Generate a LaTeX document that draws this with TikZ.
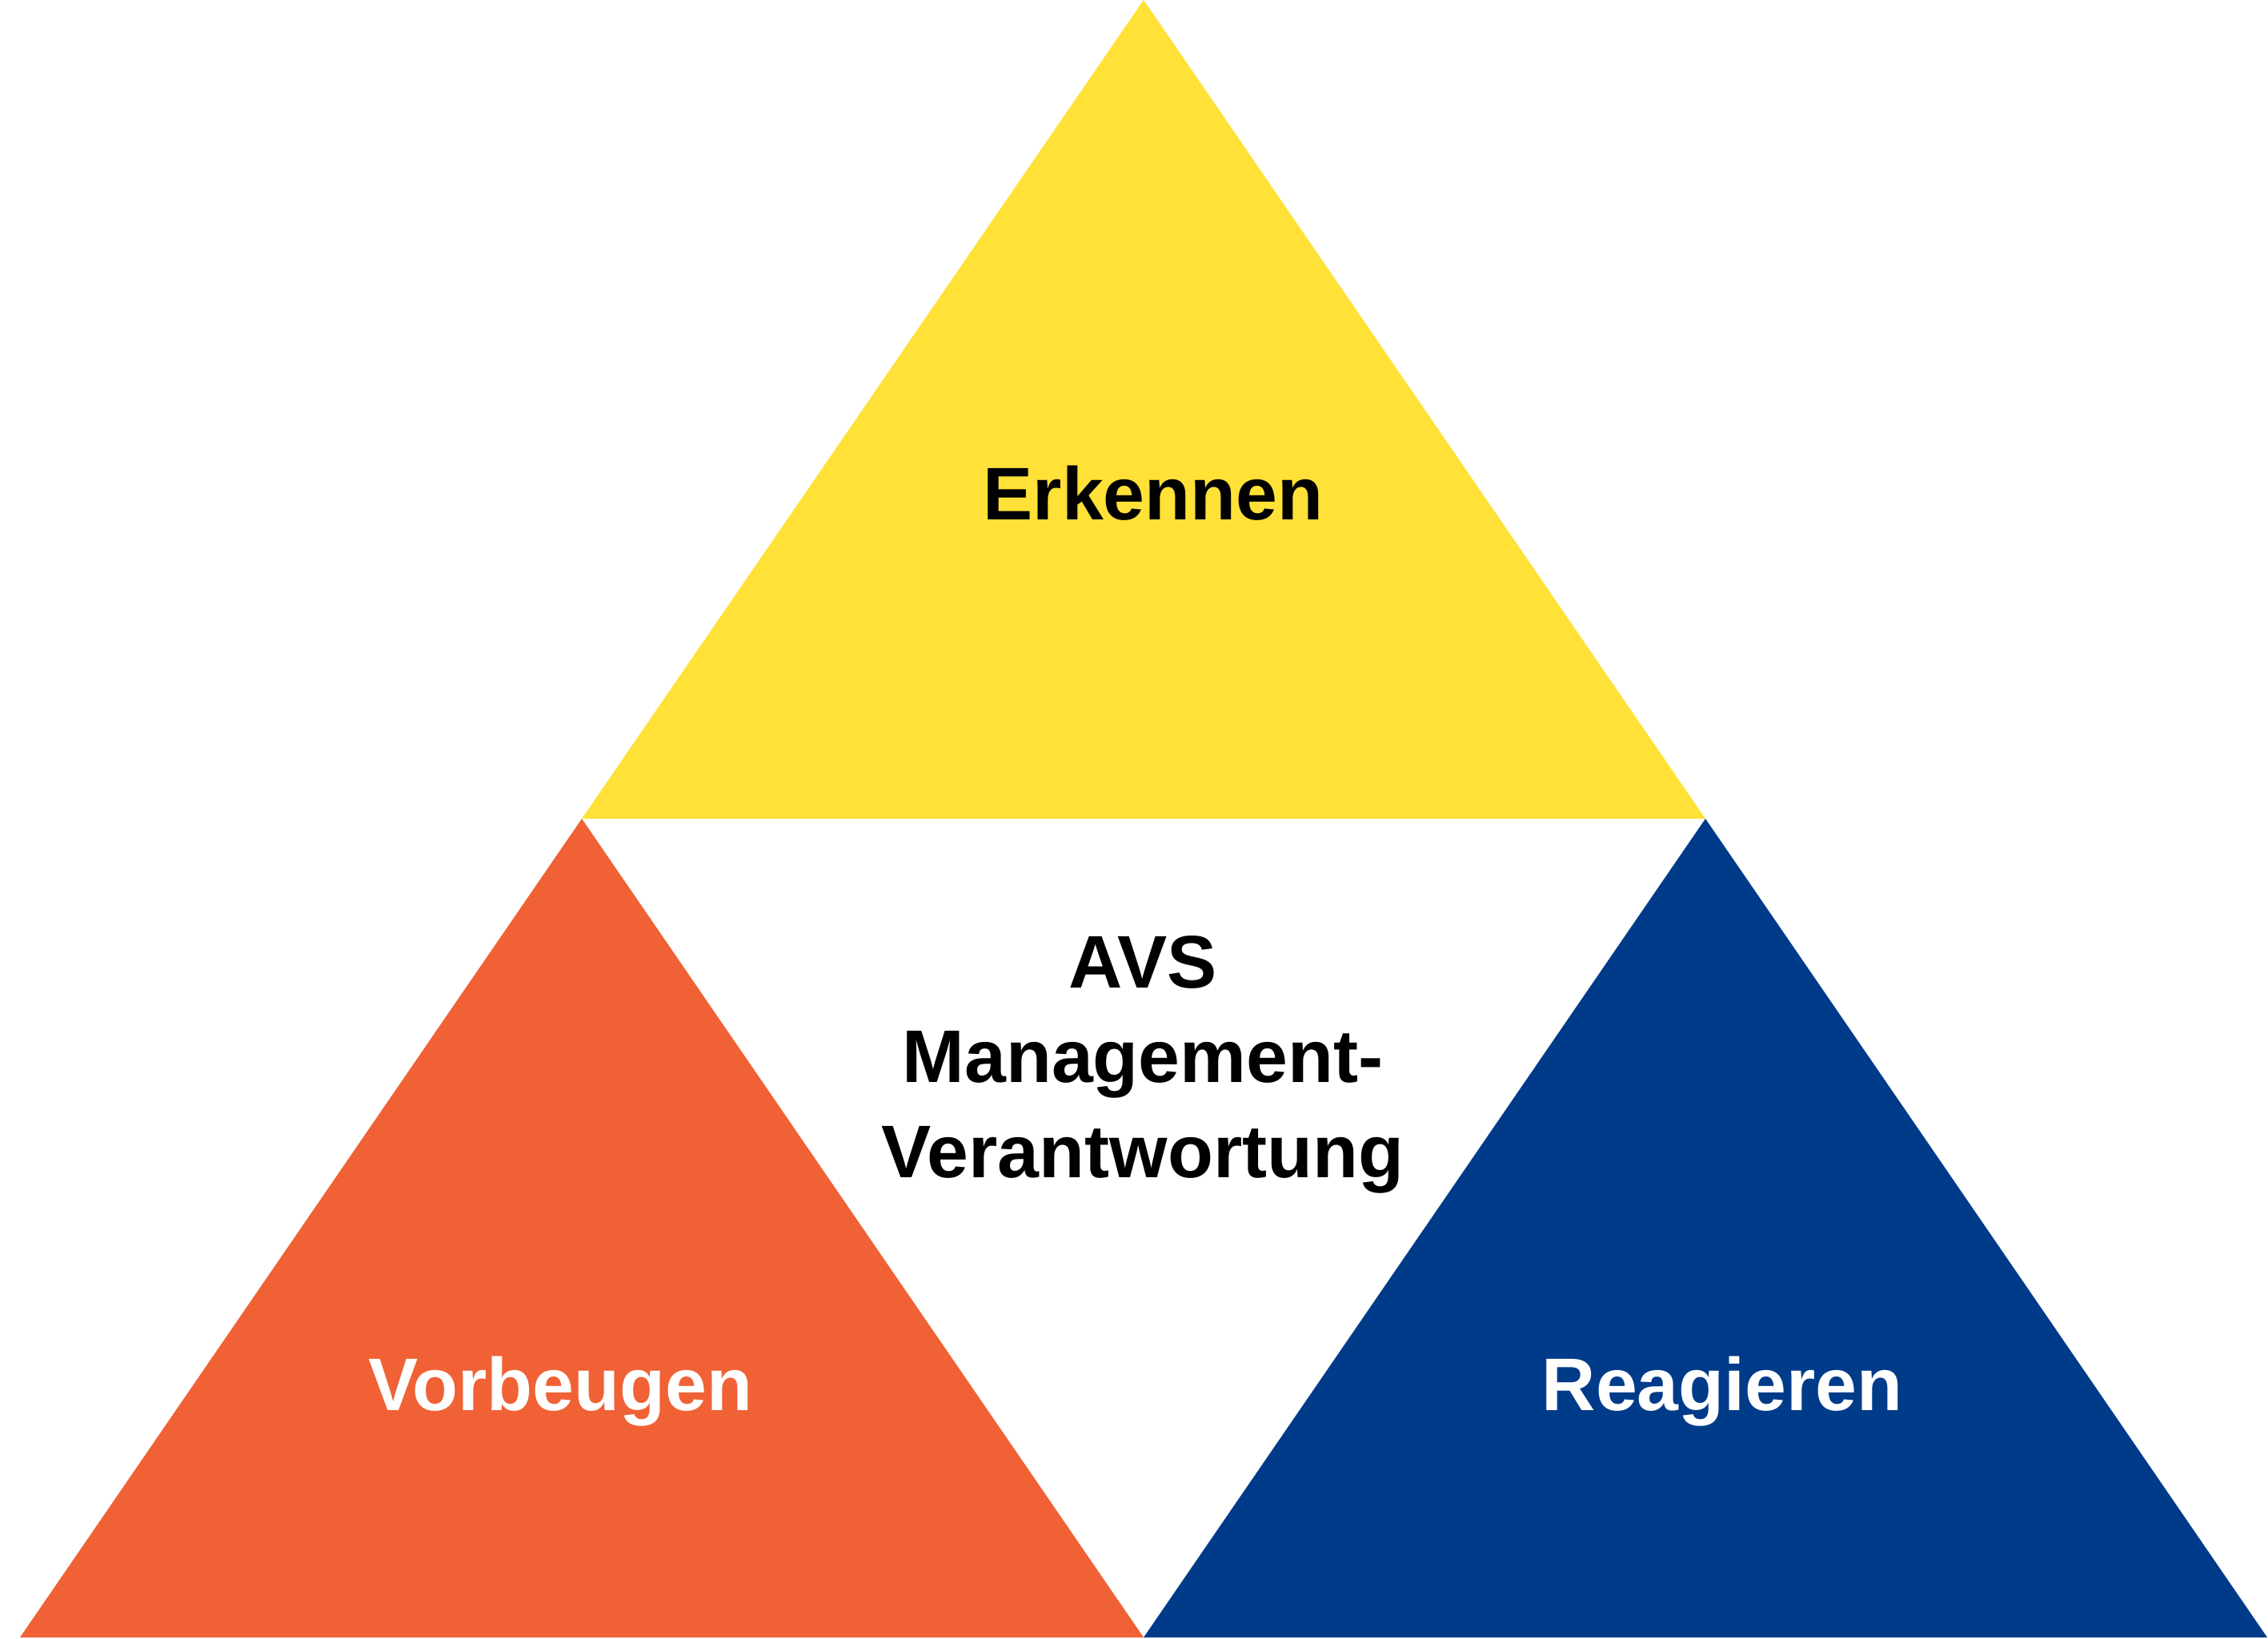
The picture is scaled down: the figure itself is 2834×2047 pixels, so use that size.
\documentclass[tikz,border=0pt]{standalone}
\usepackage{fontspec}
\setmainfont{Liberation Sans}
\definecolor{avsyellow}{RGB}{255,225,55}
\definecolor{avsorange}{RGB}{240,98,53}
\definecolor{avsblue}{RGB}{0,59,138}
\tikzset{
    label/.style={font=\fontsize{26.5}{33.6}\selectfont\bfseries,anchor=base,inner sep=0pt},
}

\begin{document}
\begin{tikzpicture}[x=0.01cm,y=0.01cm]
\useasboundingbox (0,0) rectangle (2834,2047);
\coordinate (top) at (1429,2047);
\coordinate (ml) at (727,1024);
\coordinate (mr) at (2131,1024);
\coordinate (bl) at (25,1);
\coordinate (bm) at (1429,1);
\coordinate (br) at (2833,1);

\fill[avsyellow](top)--(ml)--(mr)--cycle;
\fill[avsorange](ml)--(bl)--(bm)--cycle;
\fill[avsblue](mr)--(bm)--(br)--cycle;

\node[label] (erkennen) at (1441,1397) {Erkennen};
\node[label,white] (vorbeugen) at (700,285) {Vorbeugen};
\node[label,white] (reagieren) at (2152,285) {Reagieren};
\node[label,align=center] (avs) at (1428,576) {AVS\\Management-\\Verantwortung};

\end{tikzpicture}
\end{document}
